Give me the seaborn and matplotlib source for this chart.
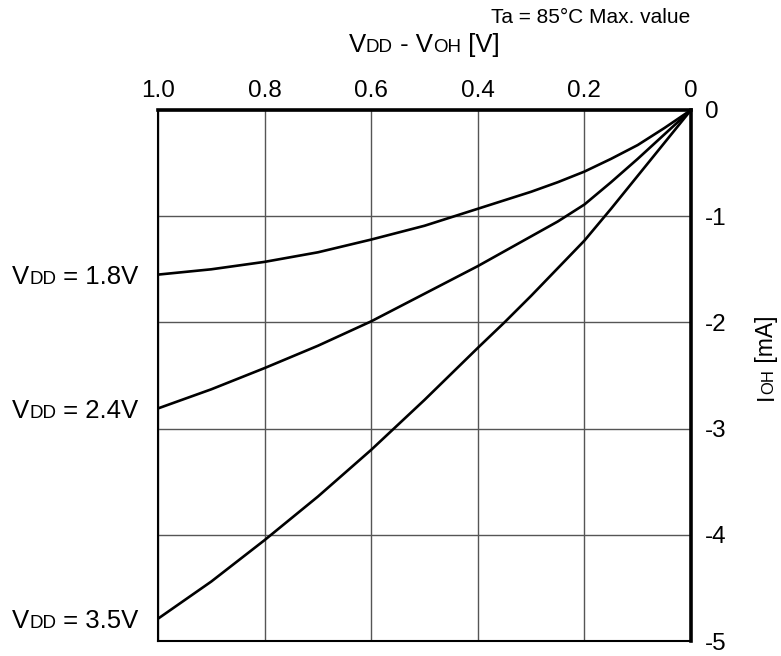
import numpy as np
import pandas as pd
import matplotlib
matplotlib.use("Agg")
import matplotlib.pyplot as plt
import seaborn as sns
from matplotlib.offsetbox import TextArea, HPacker, AnnotationBbox

# values
dv = [0.0, 0.05, 0.1, 0.15, 0.2, 0.25, 0.3, 0.35, 0.4, 0.5, 0.6, 0.7, 0.8, 0.9, 1.0]
ioh_18 = [0.0, -0.17, -0.33, -0.46, -0.58, -0.68, -0.77, -0.85, -0.93,
          -1.09, -1.22, -1.34, -1.43, -1.50, -1.55]
ioh_24 = [0.0, -0.23, -0.46, -0.68, -0.89, -1.05, -1.19, -1.33, -1.47,
          -1.73, -1.99, -2.22, -2.43, -2.63, -2.81]
ioh_35 = [0.0, -0.31, -0.62, -0.93, -1.23, -1.49, -1.75, -2.00, -2.24,
          -2.73, -3.20, -3.64, -4.05, -4.44, -4.79]
vdd_names = ["1.8V", "2.4V", "3.5V"]
x_ticks = [1.0, 0.8, 0.6, 0.4, 0.2, 0.0]
x_tick_labels = ["1.0", "0.8", "0.6", "0.4", "0.2", "0"]
y_ticks = [0, -1, -2, -3, -4, -5]
y_tick_labels = ["0", "-1", "-2", "-3", "-4", "-5"]

df = pd.concat([
    pd.DataFrame({"dv": dv, "ioh": vals, "vdd": name})
    for name, vals in zip(vdd_names, [ioh_18, ioh_24, ioh_35])
])

sns.set_style("white")
plt.rcParams["font.family"] = ["Liberation Sans", "DejaVu Sans"]
plt.rcParams["axes.unicode_minus"] = False
plt.rcParams["text.color"] = "black"

BIG, SMALL = 18.5, 13.5

fig = plt.figure(figsize=(7.81, 6.56), dpi=100)
ax = fig.add_axes([158 / 781, 1 - 641 / 656, 533 / 781, 531 / 656])

sns.lineplot(data=df, x="dv", y="ioh", hue="vdd", palette=["black"] * 3,
             legend=False, lw=1.9, ax=ax)

ax.set_xlim(1.0, 0.0)
ax.set_ylim(-5, 0)
ax.set_xticks(x_ticks)
ax.set_xticklabels(x_tick_labels)
ax.set_yticks(y_ticks)
ax.set_yticklabels(y_tick_labels)
ax.set_xlabel("")
ax.set_ylabel("")
ax.grid(True, color="#555555", lw=1)
ax.tick_params(axis="x", length=0, pad=6, labelsize=17.5, top=True, bottom=False,
               labeltop=True, labelbottom=False, colors="black")
ax.tick_params(axis="y", length=0, pad=10, labelsize=17.5, right=True, left=False,
               labelright=True, labelleft=False, colors="black")
for side, w in [("top", 2.6), ("right", 2.6), ("left", 1.5), ("bottom", 1.5)]:
    ax.spines[side].set_visible(True)
    ax.spines[side].set_color("black")
    ax.spines[side].set_linewidth(w)


def rich(parts):
    # parts: list of (text, size); baseline aligned like small caps
    areas = [TextArea(t, textprops=dict(fontsize=s, color="black")) for t, s in parts]
    return HPacker(children=areas, align="baseline", pad=0, sep=0)


def put(box, xy, coords, align, offset=(0, 0)):
    ab = AnnotationBbox(box, xy, xycoords=coords, xybox=offset,
                        boxcoords="offset points", box_alignment=align,
                        frameon=False, pad=0, annotation_clip=False)
    fig.add_artist(ab) if coords.startswith("figure") else ax.add_artist(ab)


# axis title on top
put(rich([("V", BIG), ("DD", SMALL), (" - V", BIG), ("OH", SMALL), (" [V]", BIG)]),
    (424, 656 - 57), "figure pixels", (0.5, 0))
put(rich([("Ta = 85°C Max. value", 15)]), (690, 656 - 27), "figure pixels", (1, 0))

# curve labels at the left end of each curve
for name, vals in zip(vdd_names, [ioh_18, ioh_24, ioh_35]):
    put(rich([("V", BIG), ("DD", SMALL), (" = " + name, BIG)]),
        (1.0, vals[-1]), "data", (1, 0.5), offset=(-14, -1.5))

# rotated y label on the right, built piece by piece from the bottom
base_x = 773
prev = fig.text(base_x, 656 - 400, "I", fontsize=16.5, rotation=90, color="black",
                rotation_mode="anchor", ha="left", va="baseline")
prev.set_transform(matplotlib.transforms.IdentityTransform())
for t, s in [("OH", 12), (" [mA]", 16.5)]:
    prev = ax.annotate(t, xy=(base_x, 1), xycoords=("figure pixels", prev),
                       fontsize=s, rotation=90, rotation_mode="anchor", color="black",
                       ha="left", va="baseline", annotation_clip=False)

fig.savefig("out.png", dpi=100)
